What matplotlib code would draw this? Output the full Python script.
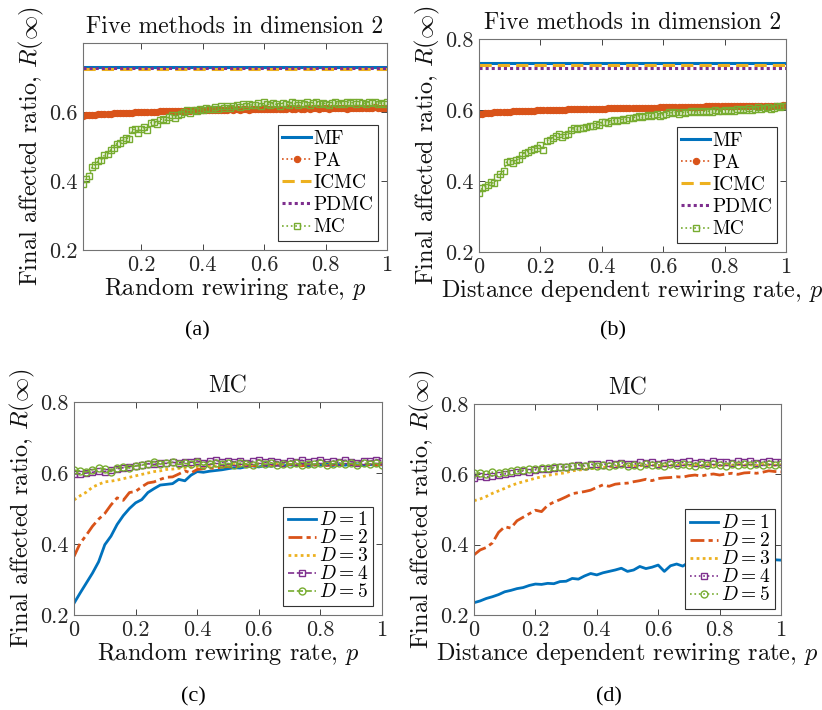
import matplotlib
matplotlib.use("Agg")
import matplotlib.pyplot as plt
from matplotlib.ticker import FuncFormatter
import numpy as np

plt.rcParams["font.family"] = "serif"
plt.rcParams["font.serif"] = ["cmr10"]
plt.rcParams["mathtext.fontset"] = "cm"
plt.rcParams["axes.formatter.use_mathtext"] = True

BLUE, ORANGE, YELLOW, PURPLE, GREEN = "#0072BD", "#D95319", "#EDB120", "#7E2F8E", "#77AC30"

# ---------------------------------------------------------------- data
# (a) random rewiring, p = 0.01 ... 1.00
p_a = np.round(np.arange(1, 101) * 0.01, 2)
mf_a, icmc_a, pdmc_a = 0.730, 0.724, 0.727
pa_a = [0.589, 0.590, 0.591, 0.592, 0.592, 0.593, 0.594, 0.594, 0.595, 0.595,
        0.596, 0.596, 0.597, 0.597, 0.598, 0.598, 0.598, 0.599, 0.599, 0.600,
        0.600, 0.600, 0.601, 0.601, 0.601, 0.602, 0.602, 0.602, 0.603, 0.603,
        0.603, 0.603, 0.604, 0.604, 0.604, 0.604, 0.605, 0.605, 0.605, 0.605,
        0.606, 0.605, 0.606, 0.607, 0.606, 0.607, 0.606, 0.607, 0.608, 0.607,
        0.608, 0.607, 0.608, 0.609, 0.607, 0.608, 0.609, 0.608, 0.609, 0.610,
        0.608, 0.609, 0.610, 0.609, 0.608, 0.610, 0.609, 0.611, 0.609, 0.610,
        0.611, 0.609, 0.610, 0.612, 0.610, 0.611, 0.613, 0.610, 0.611, 0.612,
        0.610, 0.612, 0.611, 0.613, 0.611, 0.612, 0.610, 0.613, 0.612, 0.611,
        0.613, 0.612, 0.611, 0.613, 0.612, 0.614, 0.612, 0.611, 0.613, 0.612]
mc_a = [0.392, 0.405, 0.414, 0.440, 0.446, 0.458, 0.462, 0.475, 0.478, 0.490,
        0.497, 0.508, 0.510, 0.520, 0.526, 0.522, 0.548, 0.550, 0.540, 0.552,
        0.556, 0.548, 0.568, 0.572, 0.566, 0.578, 0.580, 0.576, 0.585, 0.590,
        0.584, 0.592, 0.595, 0.600, 0.605, 0.598, 0.606, 0.604, 0.610, 0.606,
        0.612, 0.608, 0.610, 0.614, 0.609, 0.616, 0.612, 0.618, 0.611, 0.616,
        0.620, 0.614, 0.622, 0.617, 0.624, 0.619, 0.621, 0.626, 0.618, 0.630,
        0.624, 0.620, 0.627, 0.622, 0.618, 0.626, 0.623, 0.620, 0.628, 0.625,
        0.619, 0.627, 0.624, 0.629, 0.621, 0.625, 0.630, 0.622, 0.627, 0.624,
        0.620, 0.626, 0.629, 0.623, 0.627, 0.624, 0.630, 0.625, 0.628, 0.623,
        0.629, 0.626, 0.624, 0.628, 0.625, 0.629, 0.623, 0.627, 0.624, 0.630]

# (b) distance dependent rewiring, p = 0.00 ... 1.00
p_b = np.round(np.arange(0, 101) * 0.01, 2)
mf_b, icmc_b, pdmc_b = 0.732, 0.726, 0.717
pa_b = [0.589, 0.590, 0.591, 0.591, 0.592, 0.593, 0.593, 0.594, 0.594, 0.595,
        0.595, 0.596, 0.596, 0.597, 0.597, 0.597, 0.598, 0.598, 0.598, 0.599,
        0.599, 0.599, 0.600, 0.600, 0.600, 0.601, 0.601, 0.601, 0.601, 0.602,
        0.602, 0.602, 0.602, 0.603, 0.603, 0.603, 0.603, 0.604, 0.604, 0.604,
        0.604, 0.604, 0.605, 0.605, 0.605, 0.605, 0.605, 0.606, 0.606, 0.606,
        0.606, 0.606, 0.606, 0.607, 0.607, 0.607, 0.607, 0.607, 0.607, 0.608,
        0.608, 0.608, 0.608, 0.608, 0.608, 0.608, 0.609, 0.609, 0.609, 0.609,
        0.609, 0.609, 0.609, 0.609, 0.610, 0.610, 0.610, 0.610, 0.610, 0.610,
        0.610, 0.610, 0.611, 0.611, 0.611, 0.611, 0.611, 0.611, 0.611, 0.611,
        0.612, 0.612, 0.612, 0.612, 0.612, 0.612, 0.612, 0.612, 0.612, 0.613, 0.613]
mc_b = [0.365, 0.379, 0.384, 0.390, 0.396, 0.393, 0.412, 0.420, 0.428, 0.453,
        0.455, 0.450, 0.458, 0.462, 0.474, 0.480, 0.483, 0.487, 0.490, 0.494,
        0.502, 0.488, 0.513, 0.516, 0.522, 0.528, 0.532, 0.525, 0.530, 0.533,
        0.545, 0.548, 0.546, 0.550, 0.549, 0.553, 0.556, 0.554, 0.560, 0.558,
        0.565, 0.567, 0.564, 0.569, 0.571, 0.568, 0.572, 0.575, 0.573, 0.578,
        0.577, 0.581, 0.584, 0.579, 0.583, 0.586, 0.582, 0.585, 0.588, 0.584,
        0.587, 0.590, 0.594, 0.591, 0.593, 0.590, 0.595, 0.592, 0.594, 0.597,
        0.593, 0.596, 0.594, 0.598, 0.595, 0.597, 0.594, 0.599, 0.596, 0.598,
        0.601, 0.597, 0.600, 0.598, 0.602, 0.599, 0.603, 0.600, 0.605, 0.601,
        0.604, 0.608, 0.603, 0.606, 0.609, 0.604, 0.607, 0.610, 0.608, 0.611, 0.610]

# (c), (d) MC in dimensions D = 1..5, p = 0.00 ... 1.00 step 0.02
p_cd = np.round(np.arange(0, 51) * 0.02, 2)
d1_c = [0.233, 0.262, 0.290, 0.318, 0.350, 0.398, 0.422, 0.455, 0.480, 0.500,
        0.516, 0.525, 0.545, 0.556, 0.566, 0.568, 0.570, 0.582, 0.578, 0.594,
        0.604, 0.602, 0.605, 0.607, 0.609, 0.612, 0.615, 0.614, 0.618, 0.620,
        0.617, 0.621, 0.619, 0.622, 0.620, 0.623, 0.621, 0.624, 0.620, 0.623,
        0.622, 0.625, 0.621, 0.624, 0.622, 0.625, 0.623, 0.621, 0.624, 0.622, 0.623]
d2_c = [0.365, 0.402, 0.425, 0.450, 0.470, 0.486, 0.510, 0.530, 0.523, 0.545,
        0.548, 0.561, 0.572, 0.575, 0.582, 0.588, 0.589, 0.597, 0.606, 0.600,
        0.610, 0.612, 0.614, 0.613, 0.617, 0.618, 0.616, 0.620, 0.618, 0.621,
        0.619, 0.622, 0.620, 0.623, 0.621, 0.624, 0.622, 0.620, 0.624, 0.622,
        0.625, 0.621, 0.623, 0.625, 0.622, 0.624, 0.621, 0.625, 0.623, 0.622, 0.624]
d3_c = [0.524, 0.536, 0.546, 0.560, 0.568, 0.575, 0.577, 0.580, 0.584, 0.588,
        0.592, 0.596, 0.600, 0.604, 0.606, 0.610, 0.611, 0.613, 0.614, 0.616,
        0.618, 0.617, 0.620, 0.619, 0.621, 0.622, 0.624, 0.622, 0.625, 0.623,
        0.626, 0.624, 0.622, 0.625, 0.623, 0.626, 0.624, 0.622, 0.625, 0.623,
        0.626, 0.624, 0.625, 0.622, 0.626, 0.624, 0.623, 0.625, 0.624, 0.626, 0.624]
d4_c = [0.597, 0.598, 0.600, 0.602, 0.605, 0.604, 0.608, 0.612, 0.615, 0.618,
        0.620, 0.623, 0.626, 0.624, 0.628, 0.627, 0.630, 0.628, 0.632, 0.630,
        0.634, 0.629, 0.633, 0.636, 0.630, 0.634, 0.631, 0.635, 0.629, 0.633,
        0.637, 0.630, 0.634, 0.632, 0.628, 0.635, 0.631, 0.636, 0.630, 0.633,
        0.637, 0.631, 0.634, 0.630, 0.636, 0.632, 0.629, 0.635, 0.633, 0.638, 0.634]
d5_c = [0.608, 0.606, 0.603, 0.609, 0.614, 0.611, 0.604, 0.615, 0.618, 0.614,
        0.620, 0.622, 0.626, 0.632, 0.625, 0.628, 0.630, 0.624, 0.627, 0.625,
        0.630, 0.622, 0.626, 0.628, 0.624, 0.627, 0.623, 0.628, 0.625, 0.622,
        0.627, 0.624, 0.629, 0.623, 0.626, 0.624, 0.628, 0.622, 0.626, 0.624,
        0.627, 0.623, 0.626, 0.629, 0.624, 0.627, 0.623, 0.628, 0.625, 0.627, 0.622]
d1_d = [0.235, 0.240, 0.247, 0.252, 0.258, 0.266, 0.270, 0.275, 0.278, 0.284,
        0.288, 0.287, 0.290, 0.289, 0.295, 0.296, 0.304, 0.302, 0.311, 0.318,
        0.314, 0.320, 0.324, 0.328, 0.333, 0.324, 0.328, 0.338, 0.332, 0.336,
        0.342, 0.324, 0.340, 0.345, 0.339, 0.350, 0.343, 0.349, 0.352, 0.356,
        0.354, 0.346, 0.358, 0.361, 0.343, 0.356, 0.352, 0.361, 0.366, 0.357, 0.356]
d2_d = [0.371, 0.385, 0.392, 0.405, 0.435, 0.451, 0.447, 0.468, 0.478, 0.488,
        0.498, 0.494, 0.512, 0.521, 0.528, 0.536, 0.545, 0.548, 0.551, 0.555,
        0.563, 0.570, 0.566, 0.572, 0.574, 0.575, 0.579, 0.582, 0.586, 0.582,
        0.588, 0.590, 0.591, 0.593, 0.592, 0.596, 0.598, 0.595, 0.599, 0.601,
        0.598, 0.601, 0.603, 0.600, 0.604, 0.605, 0.603, 0.606, 0.610, 0.608, 0.607]
d3_d = [0.525, 0.530, 0.537, 0.546, 0.553, 0.560, 0.568, 0.574, 0.579, 0.584,
        0.589, 0.593, 0.597, 0.600, 0.602, 0.605, 0.610, 0.612, 0.614, 0.616,
        0.618, 0.620, 0.621, 0.622, 0.623, 0.624, 0.623, 0.625, 0.624, 0.626,
        0.625, 0.624, 0.626, 0.625, 0.627, 0.625, 0.626, 0.624, 0.627, 0.626,
        0.625, 0.627, 0.626, 0.628, 0.626, 0.627, 0.625, 0.628, 0.627, 0.626, 0.627]
d4_d = [0.589, 0.594, 0.592, 0.596, 0.598, 0.601, 0.604, 0.607, 0.610, 0.608,
        0.613, 0.616, 0.614, 0.619, 0.622, 0.620, 0.624, 0.627, 0.625, 0.628,
        0.630, 0.627, 0.632, 0.629, 0.633, 0.630, 0.628, 0.634, 0.631, 0.635,
        0.630, 0.633, 0.636, 0.631, 0.634, 0.637, 0.632, 0.635, 0.633, 0.638,
        0.634, 0.636, 0.632, 0.637, 0.635, 0.639, 0.633, 0.636, 0.638, 0.635, 0.634]
d5_d = [0.603, 0.604, 0.602, 0.606, 0.604, 0.607, 0.609, 0.611, 0.612, 0.614,
        0.616, 0.618, 0.617, 0.620, 0.622, 0.621, 0.623, 0.625, 0.623, 0.626,
        0.625, 0.627, 0.624, 0.626, 0.628, 0.625, 0.627, 0.624, 0.628, 0.626,
        0.627, 0.625, 0.628, 0.626, 0.629, 0.627, 0.625, 0.628, 0.626, 0.629,
        0.627, 0.625, 0.628, 0.626, 0.629, 0.627, 0.628, 0.626, 0.629, 0.627, 0.628]

YLABEL = r"Final affected ratio, $R(\infty)$"
XLAB_RAND = r"Random rewiring rate, $p$"
XLAB_DIST = r"Distance dependent rewiring rate, $p$"

fig = plt.figure(figsize=(8.22, 7.10), dpi=100)
W, H = 822, 710


def add_axes(left, top, right, bottom):
    return fig.add_axes([left / W, 1 - bottom / H, (right - left) / W, (bottom - top) / H])


def style(ax, title, xlabel, xlim, ylim, xticks, yticks):
    ax.set_xlim(*xlim)
    ax.set_ylim(*ylim)
    ax.set_xticks(xticks)
    ax.set_yticks(yticks)
    fmt = FuncFormatter(lambda v, _: f"{v:g}")
    ax.xaxis.set_major_formatter(fmt)
    ax.yaxis.set_major_formatter(fmt)
    ax.tick_params(direction="in", top=True, right=True, length=4, width=0.6,
                   labelsize=16, colors="#262626", pad=4)
    for s in ax.spines.values():
        s.set_color("0.45")
        s.set_linewidth(0.8)
    ax.set_title(title, fontsize=17, pad=7, color="#111111")
    ax.set_xlabel(xlabel, fontsize=17.5, labelpad=0, color="#111111")
    ax.set_ylabel(YLABEL, fontsize=17.5, labelpad=2, color="#111111")


def legend(ax, size=14, spacing=0.22, pad=0.45):
    leg = ax.legend(loc="lower right", fontsize=size, frameon=True, fancybox=False,
                    edgecolor="0.2", framealpha=1, handlelength=1.45,
                    handletextpad=0.15, labelspacing=spacing, borderpad=0.25,
                    borderaxespad=pad)
    leg.get_frame().set_linewidth(0.8)
    return leg


def five_methods(ax, p, mf, pa, icmc, pdmc, mc):
    ax.plot([p[0], p[-1]], [mf, mf], color=BLUE, lw=2.2, label="MF")
    ax.plot(p, pa, color=ORANGE, ls=":", lw=1.2, marker="o", ms=4.5,
            mfc=ORANGE, mec=ORANGE, mew=0.8, label="PA")
    ax.plot([p[0], p[-1]], [icmc, icmc], color=YELLOW, ls=(0, (4, 2)), lw=2.2, label="ICMC")
    ax.plot([p[0], p[-1]], [pdmc, pdmc], color=PURPLE, ls=(0, (1, 1)), lw=2.2, label="PDMC")
    ax.plot(p, mc, color=GREEN, ls=":", lw=1.2, marker="s", ms=4.5,
            mfc="none", mec=GREEN, mew=1.0, label="MC")


def dims(ax, p, d1, d2, d3, d4, d5, ls45):
    ax.plot(p, d1, color=BLUE, lw=2.0, label=r"$D=1$")
    ax.plot(p, d2, color=ORANGE, lw=2.0, ls=(0, (5, 1.5, 1.5, 1.5)), label=r"$D=2$")
    ax.plot(p, d3, color=YELLOW, lw=2.0, ls=(0, (1, 1.2)), label=r"$D=3$")
    ax.plot(p, d4, color=PURPLE, lw=1.2, ls=ls45, marker="s", ms=4,
            mfc="none", mec=PURPLE, mew=1.0, label=r"$D=4$")
    ax.plot(p, d5, color=GREEN, lw=1.2, ls=ls45, marker="o", ms=5,
            mfc="none", mec=GREEN, mew=1.0, label=r"$D=5$")


ticks_y = [0.2, 0.4, 0.6, 0.8]
ticks_x = [0, 0.2, 0.4, 0.6, 0.8, 1]

ax_a = add_axes(83, 43, 387, 250)
five_methods(ax_a, p_a, mf_a, pa_a, icmc_a, pdmc_a, mc_a)
style(ax_a, "Five methods in dimension 2", XLAB_RAND, (0.01, 1), (0.2, 0.8),
      [0.2, 0.4, 0.6, 0.8, 1], [0.2, 0.4, 0.6])
legend(ax_a)

ax_b = add_axes(479, 39, 786, 252)
five_methods(ax_b, p_b, mf_b, pa_b, icmc_b, pdmc_b, mc_b)
style(ax_b, "Five methods in dimension 2", XLAB_DIST, (0, 1), (0.2, 0.8), ticks_x, ticks_y)
legend(ax_b)

ax_c = add_axes(74, 402, 382, 615)
dims(ax_c, p_cd, d1_c, d2_c, d3_c, d4_c, d5_c, "--")
style(ax_c, "MC", XLAB_RAND, (0, 1), (0.2, 0.8), ticks_x, ticks_y)
legend(ax_c, spacing=0.0)

ax_d = add_axes(474, 404, 781, 615)
dims(ax_d, p_cd, d1_d, d2_d, d3_d, d4_d, d5_d, ":")
style(ax_d, "MC", XLAB_DIST, (0, 1), (0.2, 0.8), ticks_x, ticks_y)
legend(ax_d, spacing=0.0, pad=0.3)

for label, x, y in [("(a)", 197, 331), ("(b)", 613, 331), ("(c)", 193, 697), ("(d)", 609, 697)]:
    fig.text(x / W, 1 - y / H, label, ha="center", va="center", fontsize=16,
             family="Liberation Serif")

fig.savefig("out.png", dpi=100, facecolor="white")
